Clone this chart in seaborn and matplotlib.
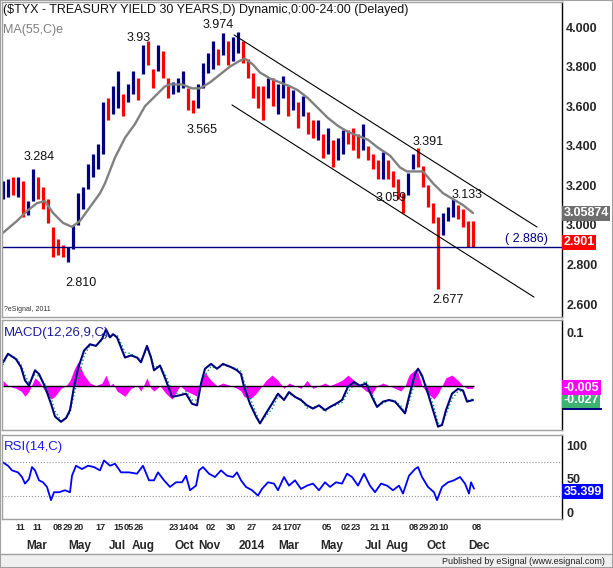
import numpy as np
import seaborn as sns
import matplotlib
matplotlib.use("Agg")
import matplotlib.pyplot as plt
import matplotlib.transforms as mtrans
from matplotlib.patches import Rectangle

# price, one bar per week; x is the trading day of the chart
bar_day = np.arange(95) * 5 + 2.5
bar_high = [3.22, 3.23, 3.24, 3.24, 3.22, 3.12, 3.28, 3.24, 3.19, 3.13,
            2.99, 2.93, 2.90, 2.89, 3.00, 3.16, 3.19, 3.31, 3.36, 3.41,
            3.62, 3.64, 3.70, 3.78, 3.66, 3.71, 3.78, 3.74, 3.91, 3.93,
            3.79, 3.91, 3.88, 3.74, 3.72, 3.74, 3.78, 3.69, 3.63, 3.71,
            3.82, 3.87, 3.93, 3.89, 3.97, 3.93, 3.95, 3.974, 3.93, 3.84,
            3.77, 3.70, 3.70, 3.74, 3.74, 3.71, 3.75, 3.70, 3.68, 3.62,
            3.65, 3.57, 3.53, 3.53, 3.46, 3.49, 3.43, 3.44, 3.48, 3.48,
            3.49, 3.46, 3.51, 3.40, 3.36, 3.33, 3.37, 3.33, 3.27, 3.23,
            3.16, 3.26, 3.36, 3.391, 3.30, 3.20, 3.11, 3.04, 3.06, 3.09,
            3.133, 3.10, 3.08, 3.02, 3.02]
bar_low = [3.13, 3.14, 3.15, 3.14, 3.04, 3.05, 3.12, 3.13, 3.08, 3.01,
           2.84, 2.85, 2.84, 2.81, 2.88, 3.00, 3.08, 3.18, 3.24, 3.28,
           3.36, 3.53, 3.56, 3.59, 3.55, 3.62, 3.66, 3.63, 3.76, 3.81,
           3.69, 3.78, 3.74, 3.64, 3.66, 3.67, 3.69, 3.58, 3.565, 3.59,
           3.69, 3.77, 3.79, 3.81, 3.86, 3.81, 3.83, 3.87, 3.82, 3.74,
           3.64, 3.59, 3.53, 3.64, 3.60, 3.56, 3.64, 3.55, 3.58, 3.49,
           3.55, 3.46, 3.44, 3.43, 3.34, 3.36, 3.29, 3.33, 3.36, 3.41,
           3.38, 3.34, 3.38, 3.33, 3.28, 3.23, 3.23, 3.23, 3.19, 3.13,
           3.059, 3.15, 3.28, 3.29, 3.19, 3.09, 3.01, 2.677, 2.95, 3.02,
           3.04, 3.03, 2.99, 2.89, 2.886]
bar_close = [3.15, 3.20, 3.18, 3.22, 3.08, 3.10, 3.25, 3.16, 3.10, 3.04,
             2.90, 2.88, 2.86, 2.86, 2.98, 3.12, 3.16, 3.28, 3.30, 3.38,
             3.58, 3.56, 3.62, 3.64, 3.60, 3.68, 3.74, 3.66, 3.88, 3.84,
             3.72, 3.86, 3.76, 3.67, 3.70, 3.71, 3.72, 3.60, 3.58, 3.69,
             3.79, 3.82, 3.86, 3.84, 3.92, 3.86, 3.90, 3.93, 3.85, 3.76,
             3.67, 3.63, 3.60, 3.70, 3.64, 3.66, 3.70, 3.60, 3.64, 3.53,
             3.60, 3.50, 3.47, 3.49, 3.38, 3.44, 3.33, 3.40, 3.45, 3.44,
             3.42, 3.38, 3.46, 3.35, 3.30, 3.26, 3.33, 3.27, 3.21, 3.15,
             3.10, 3.24, 3.33, 3.31, 3.22, 3.12, 3.03, 2.94, 3.03, 3.07,
             3.08, 3.05, 3.02, 2.93, 2.901]

# MA(55) grey curve
ma_day = [3, 17, 27, 37, 45, 53, 63, 72, 80, 90, 100, 105, 115, 125, 135, 145, 155,
          165, 170, 182, 192, 200, 210, 220, 230, 240, 245, 253, 260, 270, 280, 290,
          298, 308, 318, 328, 338, 348, 358, 368, 378, 390, 400, 407, 413, 423, 433,
          443, 453, 463, 473]
ma_val = [2.96, 3.02, 3.07, 3.11, 3.12, 3.06, 3.01, 2.99, 3.02, 3.09, 3.16, 3.21, 3.34,
          3.44, 3.51, 3.60, 3.65, 3.70, 3.71, 3.71, 3.69, 3.69, 3.72, 3.76, 3.80, 3.83,
          3.84, 3.81, 3.77, 3.74, 3.72, 3.70, 3.68, 3.64, 3.59, 3.54, 3.50, 3.47, 3.45,
          3.43, 3.39, 3.35, 3.29, 3.27, 3.27, 3.27, 3.21, 3.16, 3.13, 3.10, 3.06]

# MACD(12,26,9)
macd_day = [3, 8, 16, 21, 25, 29, 35, 39, 45, 51, 55, 61, 66, 70, 74, 78, 84, 90, 96,
            102, 106, 110, 113, 117, 121, 125, 131, 137, 141, 147, 151, 154, 160, 166,
            172, 180, 186, 192, 197, 201, 205, 211, 217, 223, 231, 237, 241, 244, 250,
            256, 260, 266, 272, 278, 284, 289, 295, 301, 307, 313, 319, 325, 330, 336,
            342, 348, 354, 360, 366, 372, 377, 383, 389, 395, 401, 405, 409, 415, 418,
            422, 428, 434, 438, 442, 446, 452, 458, 463, 467, 473]
macd_val = [0.044, 0.060, 0.050, 0.035, 0.010, 0.000, 0.029, 0.022, -0.002, -0.034,
            -0.058, -0.068, -0.061, -0.046, -0.002, 0.032, 0.066, 0.078, 0.075, 0.088,
            0.106, 0.091, 0.097, 0.091, 0.072, 0.053, 0.057, 0.053, 0.044, 0.075,
            0.053, 0.029, 0.038, 0.010, -0.021, -0.018, -0.015, -0.034, -0.037, 0.004,
            0.032, 0.041, 0.032, 0.041, 0.035, 0.029, 0.022, -0.002, -0.034, -0.058,
            -0.071, -0.052, -0.034, -0.015, -0.027, -0.012, -0.021, -0.027, -0.037, -0.043,
            -0.037, -0.046, -0.040, -0.034, -0.027, -0.002, 0.007, 0.000, 0.004, -0.021,
            -0.040, -0.030, -0.027, -0.030, -0.043, -0.052, -0.021, 0.022, 0.032, 0.019,
            -0.015, -0.052, -0.077, -0.074, -0.046, -0.015, -0.006, -0.009, -0.030, -0.027]
macd_sig = [0.039, 0.060, 0.052, 0.040, 0.020, 0.005, 0.021, 0.018, 0.003, -0.022,
            -0.048, -0.066, -0.061, -0.051, -0.017, 0.010, 0.056, 0.076, 0.075, 0.086,
            0.096, 0.091, 0.095, 0.096, 0.080, 0.063, 0.060, 0.053, 0.049, 0.068,
            0.056, 0.034, 0.038, 0.018, -0.009, -0.018, -0.010, -0.027, -0.027, -0.001,
            0.020, 0.036, 0.032, 0.039, 0.035, 0.032, 0.027, 0.008, -0.022, -0.051,
            -0.069, -0.057, -0.044, -0.020, -0.025, -0.015, -0.021, -0.025, -0.042, -0.041,
            -0.037, -0.049, -0.040, -0.037, -0.032, -0.012, 0.002, 0.000, 0.009, -0.014,
            -0.040, -0.033, -0.027, -0.028, -0.038, -0.052, -0.031, 0.007, 0.020, 0.019,
            -0.008, -0.040, -0.070, -0.074, -0.054, -0.025, -0.011, -0.009, -0.028, -0.025]
macd_hist = [0.010, 0.000, -0.005, -0.010, -0.020, -0.010, 0.015, 0.008, -0.010, -0.025,
             -0.020, -0.005, 0.000, 0.010, 0.030, 0.045, 0.020, 0.005, 0.000, 0.005,
             0.020, 0.000, 0.005, -0.010, -0.015, -0.020, -0.005, 0.000, -0.010, 0.015,
             -0.005, -0.010, 0.000, -0.015, -0.025, 0.000, -0.010, -0.015, -0.020, 0.010,
             0.025, 0.010, 0.000, 0.005, 0.000, -0.005, -0.010, -0.020, -0.025, -0.015,
             -0.005, 0.010, 0.020, 0.010, -0.005, 0.005, 0.000, -0.005, 0.010, -0.005,
             0.000, 0.005, 0.000, 0.005, 0.010, 0.020, 0.010, 0.000, -0.010, -0.015,
             0.000, 0.005, 0.000, -0.005, -0.010, 0.000, 0.020, 0.030, 0.025, 0.000,
             -0.015, -0.025, -0.015, 0.000, 0.015, 0.020, 0.010, 0.000, -0.005, -0.005]

# RSI(14)
rsi_day = [3, 8, 12, 18, 22, 25, 29, 32, 35, 39, 43, 47, 51, 54, 59, 65, 70, 72, 76, 82,
           88, 94, 100, 104, 110, 115, 121, 129, 137, 143, 149, 154, 158, 164, 170, 176,
           182, 186, 190, 196, 199, 203, 209, 215, 221, 227, 233, 237, 241, 246, 252, 258,
           262, 268, 274, 278, 284, 289, 295, 301, 307, 313, 319, 325, 330, 336, 342, 347,
           352, 358, 364, 370, 375, 381, 387, 393, 399, 403, 409, 415, 418, 422, 428, 434,
           437, 442, 448, 454, 460, 465, 469, 471, 474]
rsi_val = [75, 70, 63, 60, 53, 43, 50, 68, 63, 48, 45, 38, 18, 30, 30, 33, 30, 55, 70, 65,
           70, 68, 63, 78, 70, 73, 60, 60, 58, 70, 48, 48, 60, 48, 38, 45, 45, 55, 33, 40,
           63, 68, 58, 53, 63, 55, 53, 60, 48, 38, 33, 25, 35, 45, 43, 33, 53, 40, 48, 35,
           40, 43, 33, 45, 38, 45, 43, 58, 53, 40, 58, 40, 30, 43, 40, 33, 40, 28, 55, 65,
           68, 53, 38, 30, 18, 38, 45, 48, 53, 43, 28, 45, 35.4]

# trend channel and marked levels
chan_day = [[234, 537], [232, 534]]
chan_val = [[3.960, 2.989], [3.606, 2.635]]
note_day = [39, 81, 139, 218, 202, 428, 391, 467, 448]
note_lvl = [3.343, 2.706, 3.944, 4.010, 3.479, 3.419, 3.136, 3.151, 2.620]
note_txt = ["3.284", "2.810", "3.93", "3.974", "3.565", "3.391", "3.059", "3.133", "2.677"]
support = 2.886

day_ticks = [20, 37, 58, 68, 79, 100, 119, 129, 139, 174, 184, 194, 211, 231, 252, 277,
             287, 297, 327, 346, 356, 375, 385, 414, 424, 434, 444, 477]
day_labels = ["11", "11", "08", "29", "20", "17", "15", "05", "26", "23", "14", "04", "02",
              "30", "27", "24", "17", "07", "05", "02", "23", "21", "11", "08", "29", "20",
              "10", "08"]
month_ticks = [37, 80, 117, 143, 184, 209, 252, 289, 332, 373, 397, 436, 479]
month_labels = ["Mar", "May", "Jul", "Aug", "Oct", "Nov", "2014", "Mar", "May", "Jul",
                "Aug", "Oct", "Dec"]

NAVY = "#000080"
RED = "#ff0000"

sns.set_theme(style="white")
plt.rcParams["font.family"] = ["Liberation Sans", "DejaVu Sans"]

W, H = 613, 568
fig = plt.figure(figsize=(W / 100, H / 100), dpi=100)
fig.patch.set_facecolor("white")


def box(left, top, right, bottom):
    return [left / W, 1 - bottom / H, (right - left) / W, (bottom - top) / H]


ax = fig.add_axes(box(2, 2, 562, 317))
axm = fig.add_axes(box(2, 320, 562, 430))
axr = fig.add_axes(box(2, 435, 562, 519))

for a in (ax, axm, axr):
    a.set_facecolor("white")
    a.set_xlim(2, 562)
    a.set_xticks([])
    for s in ("left", "top", "bottom"):
        a.spines[s].set_color("#a0a0a0")
        a.spines[s].set_linewidth(1)
    a.spines["right"].set_color("black")
    a.spines["right"].set_linewidth(1)
    a.yaxis.tick_right()
    a.tick_params(axis="y", length=0, pad=3, labelsize=9)
    a.grid(False)


def tag(a, value, text, face, dy=0, z=6):
    tr = mtrans.blended_transform_factory(a.transAxes, a.transData)
    tr = mtrans.offset_copy(tr, fig=fig, x=0, y=dy, units="dots")
    a.text(1.0 + 1.5 / 560, value, text, transform=tr,
           ha="left", va="center", fontsize=9, fontweight="bold", color="white",
           bbox=dict(boxstyle="square,pad=0.12", fc=face, ec="none"),
           clip_on=False, zorder=z)


# main price panel
cols = [NAVY] + [NAVY if c >= p else RED for p, c in zip(bar_close[:-1], bar_close[1:])]
ax.vlines(bar_day, bar_low, bar_high, colors=cols, lw=2.3)
ax.hlines(bar_close, bar_day, bar_day + 2.2, colors=cols, lw=1.2)
sns.lineplot(x=ma_day, y=ma_val, ax=ax, color="#808080", lw=1.7)
ax.axhline(support, color=NAVY, lw=1)
for d, v in zip(chan_day, chan_val):
    ax.plot(d, v, color="black", lw=0.8)
for d, v, t in zip(note_day, note_lvl, note_txt):
    ax.text(d, v, t, ha="center", va="center", fontsize=9, color="#111111")
ax.text(548, support + 0.012, "( 2.886)", ha="right", va="bottom", fontsize=9, color=NAVY)
ax.set_ylim(2.5343, 4.1264)
ax.set_yticks([4.0, 3.8, 3.6, 3.4, 3.2, 3.0, 2.8, 2.6])
ax.set_yticklabels(["%.3f" % v for v in [4.0, 3.8, 3.6, 3.4, 3.2, 3.0, 2.8, 2.6]],
                   fontweight="bold")
tag(ax, 3.05874, "3.05874", "#6e6e6e")
tag(ax, 2.901, "2.901", RED, dy=2)
ax.text(3, 3.985, "MA(55,C)e", fontsize=9, color="#808080", va="center")
ax.text(0.003, 0.02, "?eSignal, 2011", transform=ax.transAxes, fontsize=5, color="#333333")

# MACD panel
axm.fill_between(macd_day, 0, macd_hist, color="#ff00ff", lw=0)
axm.hlines(0, 3, 474, color="black", lw=1)
sns.lineplot(x=macd_day, y=macd_sig, ax=axm, color="#00a050", lw=1, linestyle=":")
sns.lineplot(x=macd_day, y=macd_val, ax=axm, color=NAVY, lw=1.5)
axm.set_ylim(-0.0834, 0.1237)
axm.set_yticks([0.1])
axm.set_yticklabels(["0.1"], fontweight="bold")
axm.set_ylabel("")
# the MACD line's own tag sits under the signal tag; only its lower edge shows
axm.add_patch(Rectangle((1.0 + 1 / 560, -0.0461), 39 / 560, 0.0037,
                        transform=mtrans.blended_transform_factory(axm.transAxes, axm.transData),
                        fc=NAVY, ec="none", clip_on=False, zorder=5))
tag(axm, -0.027, "-0.027", "#3cb371")
tag(axm, -0.004, "-0.005", "#ff00ff")
axm.text(0.003, 0.88, "MACD(12,26,9,C)", transform=axm.transAxes, fontsize=9.5,
         color="#1c1c9c", va="center")

# RSI panel
for lvl in (75, 25):
    axr.axhline(lvl, color="#909090", lw=0.8, linestyle=":")
sns.lineplot(x=rsi_day, y=rsi_val, ax=axr, color="#0000ff", lw=1.3)
axr.set_ylim(-10.4, 116.4)
axr.set_yticks([100, 50, 0])
axr.set_yticklabels(["100", "50", "0"], fontweight="bold")
tag(axr, 35.399, "35.399", "#0000ff", dy=-3)
axr.text(0.003, 0.86, "RSI(14,C)", transform=axr.transAxes, fontsize=9.5,
         color="#1a1aee", va="center")

# date axis under the RSI panel
dt = mtrans.blended_transform_factory(axr.transData, fig.transFigure)
for d, t in zip(day_ticks, day_labels):
    fig.text(d, 1 - 528 / H, t, transform=dt, ha="center", va="center",
             fontsize=6.6, fontweight="bold")
for d, t in zip(month_ticks, month_labels):
    fig.text(d, 1 - 546 / H, t, transform=dt, ha="center", va="center",
             fontsize=8.5, fontweight="bold")

fig.text(3 / W, 1 - 10 / H, "($TYX - TREASURY YIELD 30 YEARS,D) Dynamic,0:00-24:00 (Delayed)",
         fontsize=9, va="center", ha="left", color="#111111")

# footer strip and outer frame
fig.patches.append(Rectangle((0, 0), 1, 14 / H, transform=fig.transFigure,
                             fc="#f0f0f0", ec="none", zorder=0))
fig.lines.append(plt.Line2D([0, 1], [14 / H, 14 / H], transform=fig.transFigure,
                            color="#a0a0a0", lw=1))
fig.text(605 / W, 1 - 561 / H, "Published by eSignal (www.esignal.com)",
         ha="right", va="center", fontsize=6.5, color="#222222")
fig.patches.append(Rectangle((0, 0), 1, 1, transform=fig.transFigure,
                             fc="none", ec="#a0a0a0", lw=1.5, zorder=10))

fig.savefig("out.png", dpi=100)
